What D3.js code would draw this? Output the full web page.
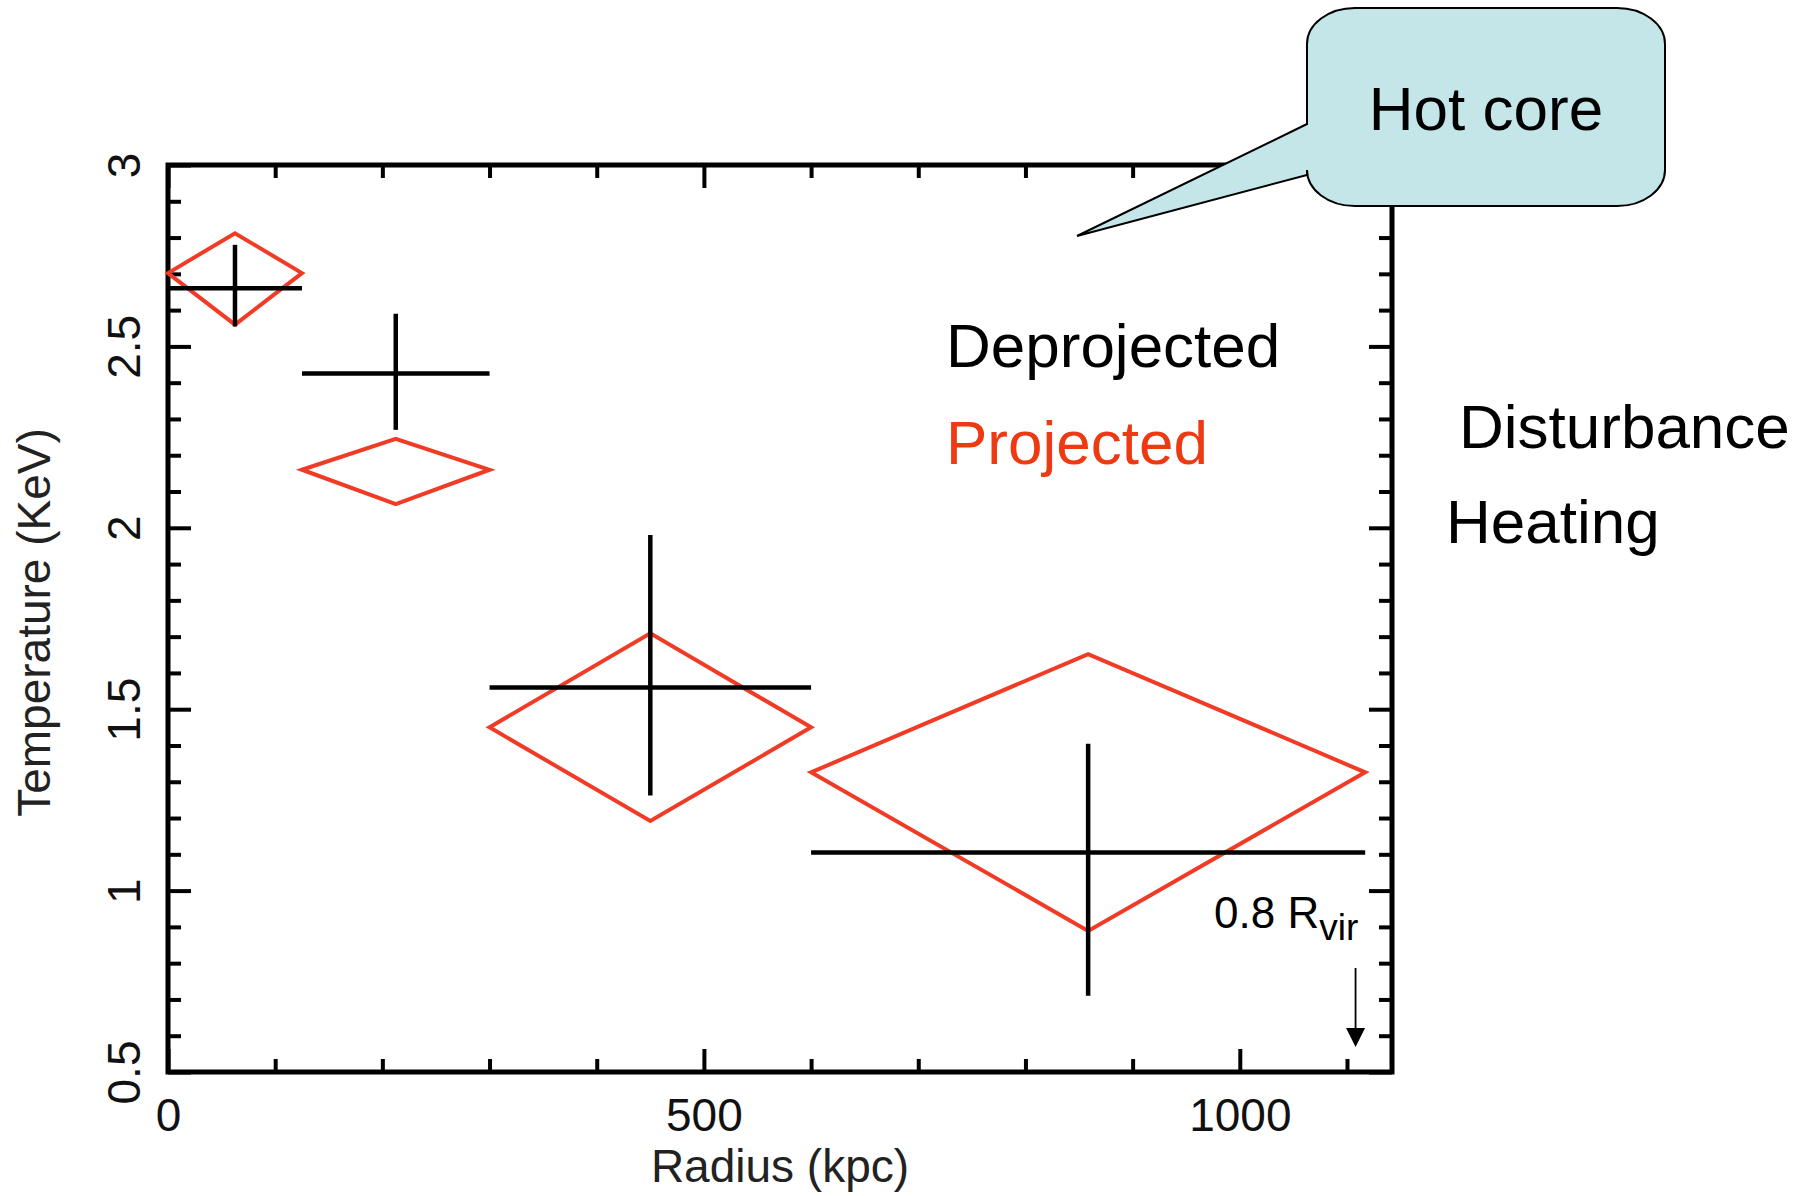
<!DOCTYPE html>
<html>
<head>
<meta charset="utf-8">
<script src="https://cdn.jsdelivr.net/npm/d3@7"></script>
<style>
  html, body { margin: 0; padding: 0; background: #fff; }
  svg { display: block; }
  text { font-family: "Liberation Sans", Arial, Helvetica, sans-serif; }
</style>
</head>
<body>
<svg id="chart" width="1802" height="1196"></svg>
<script>
// ---- data ----
const binLo      = [0, 125, 300, 600];
const binHi      = [125, 300, 600, 1117];
const deprojT    = [2.66, 2.425, 1.56, 1.105];
const deprojLo   = [2.555, 2.27, 1.262, 0.71];
const deprojHi   = [2.78, 2.59, 1.98, 1.405];
const projT      = [2.702, 2.16, 1.45, 1.326];
const projLo     = [2.56, 2.065, 1.192, 0.889];
const projHi     = [2.812, 2.245, 1.709, 1.652];

const xTickValues = [0, 500, 1000];
const xTickLabels = ["0", "500", "1000"];
const yTickValues = [0.5, 1, 1.5, 2, 2.5, 3];
const yTickLabels = ["0.5", "1", "1.5", "2", "2.5", "3"];

const xDomain = [0, 1142];
const yDomain = [0.5, 3];
const rvirX = 1108;

// ---- layout ----
const svg = d3.select("#chart");
const L = 168, R = 1392, T = 165, B = 1072;
const x = d3.scaleLinear().domain(xDomain).range([L, R]);
const y = d3.scaleLinear().domain(yDomain).range([B, T]);

const xMinor = d3.range(100, 1142, 100).filter(v => !xTickValues.includes(v));
const yMinor = d3.range(6, 30, 1).map(v => v / 10).filter(v => !yTickValues.some(t => Math.abs(t - v) < 1e-9));

const MAJ = 23, MIN = 13;
function styleAxis(g, width) {
  g.select(".domain").remove();
  g.selectAll(".tick line").attr("stroke", "#000").attr("stroke-width", width);
}

// bottom axis
const gB = svg.append("g").attr("transform", `translate(0,${B})`)
  .call(d3.axisBottom(x).tickValues(xTickValues).tickSize(-MAJ)
    .tickFormat((d, i) => xTickLabels[i]));
styleAxis(gB, 4);
gB.selectAll(".tick text").attr("y", 59).attr("dy", 0)
  .attr("font-size", 46).attr("fill", "#111")
  .style("font-family", "'Liberation Sans', Arial, sans-serif");
const gBm = svg.append("g").attr("transform", `translate(0,${B})`)
  .call(d3.axisBottom(x).tickValues(xMinor).tickSize(-MIN).tickFormat(""));
styleAxis(gBm, 4);

// top axis
const gT = svg.append("g").attr("transform", `translate(0,${T})`)
  .call(d3.axisTop(x).tickValues(xTickValues).tickSize(-MAJ).tickFormat(""));
styleAxis(gT, 4);
const gTm = svg.append("g").attr("transform", `translate(0,${T})`)
  .call(d3.axisTop(x).tickValues(xMinor).tickSize(-MIN).tickFormat(""));
styleAxis(gTm, 4);

// left axis
const gL = svg.append("g").attr("transform", `translate(${L},0)`)
  .call(d3.axisLeft(y).tickValues(yTickValues).tickSize(-MAJ)
    .tickFormat((d, i) => yTickLabels[i]));
styleAxis(gL, 4);
gL.selectAll(".tick text")
  .attr("x", null).attr("dy", 0)
  .attr("text-anchor", "middle")
  .attr("transform", "translate(-28,0) rotate(-90)")
  .attr("font-size", 46).attr("fill", "#111")
  .style("font-family", "'Liberation Sans', Arial, sans-serif");
const gLm = svg.append("g").attr("transform", `translate(${L},0)`)
  .call(d3.axisLeft(y).tickValues(yMinor).tickSize(-MIN).tickFormat(""));
styleAxis(gLm, 4);

// right axis
const gR = svg.append("g").attr("transform", `translate(${R},0)`)
  .call(d3.axisRight(y).tickValues(yTickValues).tickSize(-MAJ).tickFormat(""));
styleAxis(gR, 4);
const gRm = svg.append("g").attr("transform", `translate(${R},0)`)
  .call(d3.axisRight(y).tickValues(yMinor).tickSize(-MIN).tickFormat(""));
styleAxis(gRm, 4);

// frame
svg.append("rect")
  .attr("x", x(xDomain[0])).attr("y", y(yDomain[1]))
  .attr("width", x(xDomain[1]) - x(xDomain[0]))
  .attr("height", y(yDomain[0]) - y(yDomain[1]))
  .attr("fill", "none").attr("stroke", "#000").attr("stroke-width", 5);

// axis titles
svg.append("text").attr("x", (L + R) / 2).attr("y", 1182)
  .attr("text-anchor", "middle").attr("font-size", 46).attr("fill", "#222")
  .text("Radius (kpc)");
svg.append("text")
  .attr("transform", `translate(50,${(T + B) / 2 + 4}) rotate(-90)`)
  .attr("text-anchor", "middle").attr("font-size", 46).attr("fill", "#222")
  .text("Temperature (KeV)");

// ---- data marks ----
const idx = d3.range(binLo.length);
const mid = i => (binLo[i] + binHi[i]) / 2;

// projected diamonds
const red = "#f03c26";
svg.append("g").selectAll("path").data(idx).join("path")
  .attr("d", i => {
    const xl = x(binLo[i]), xr = x(binHi[i]), xc = x(mid(i));
    return `M${xl},${y(projT[i])}L${xc},${y(projHi[i])}L${xr},${y(projT[i])}L${xc},${y(projLo[i])}Z`;
  })
  .attr("fill", "none").attr("stroke", red).attr("stroke-width", 4)
  .attr("stroke-linejoin", "miter");

// deprojected crosses
const gC = svg.append("g").attr("stroke", "#000").attr("stroke-width", 4.5).attr("stroke-linecap", "butt");
gC.selectAll("line.h").data(idx).join("line").attr("class", "h")
  .attr("x1", i => x(binLo[i])).attr("x2", i => x(binHi[i]))
  .attr("y1", i => y(deprojT[i])).attr("y2", i => y(deprojT[i]));
gC.selectAll("line.v").data(idx).join("line").attr("class", "v")
  .attr("x1", i => x(mid(i))).attr("x2", i => x(mid(i)))
  .attr("y1", i => y(deprojLo[i])).attr("y2", i => y(deprojHi[i]));

// ---- annotations ----
svg.append("text").attr("x", 946).attr("y", 367).attr("font-size", 62).attr("fill", "#000").text("Deprojected");
svg.append("text").attr("x", 946).attr("y", 464).attr("font-size", 62).attr("fill", "#ee3a12").text("Projected");
svg.append("text").attr("x", 1459).attr("y", 448).attr("font-size", 62).attr("fill", "#000").text("Disturbance");
svg.append("text").attr("x", 1446).attr("y", 543).attr("font-size", 62).attr("fill", "#000").text("Heating");

const rv = svg.append("text").attr("x", 1214).attr("y", 928).attr("font-size", 44).attr("fill", "#000");
rv.append("tspan").text("0.8 R");
rv.append("tspan").attr("font-size", 37).attr("dy", 12).text("vir");

// arrow at 0.8 Rvir
const ax = x(rvirX);
svg.append("line").attr("x1", ax).attr("x2", ax).attr("y1", 968).attr("y2", 1032)
  .attr("stroke", "#000").attr("stroke-width", 1.8);
svg.append("path").attr("d", `M${ax - 9.5},1028L${ax + 9.5},1028L${ax},1047Z`).attr("fill", "#000");

// callout "Hot core"
const cx0 = 1307, cx1 = 1665, cy0 = 8, cy1 = 206, rx = 48, ry = 36;
const tipX = 1077, tipY = 236, attTop = 124, attBot = 175;
const calloutPath =
  `M${cx0 + rx},${cy0} H${cx1 - rx} A${rx},${ry} 0 0 1 ${cx1},${cy0 + ry}` +
  ` V${cy1 - ry} A${rx},${ry} 0 0 1 ${cx1 - rx},${cy1}` +
  ` H${cx0 + rx} A${rx},${ry} 0 0 1 ${cx0},${cy1 - ry}` +
  ` V${attBot} L${tipX},${tipY} L${cx0},${attTop}` +
  ` V${cy0 + ry} A${rx},${ry} 0 0 1 ${cx0 + rx},${cy0} Z`;
svg.append("path").attr("d", calloutPath)
  .attr("fill", "#c4e6e8").attr("stroke", "#000").attr("stroke-width", 2);
svg.append("text").attr("x", (cx0 + cx1) / 2).attr("y", 130)
  .attr("text-anchor", "middle").attr("font-size", 62).attr("fill", "#000").text("Hot core");
</script>
</body>
</html>
